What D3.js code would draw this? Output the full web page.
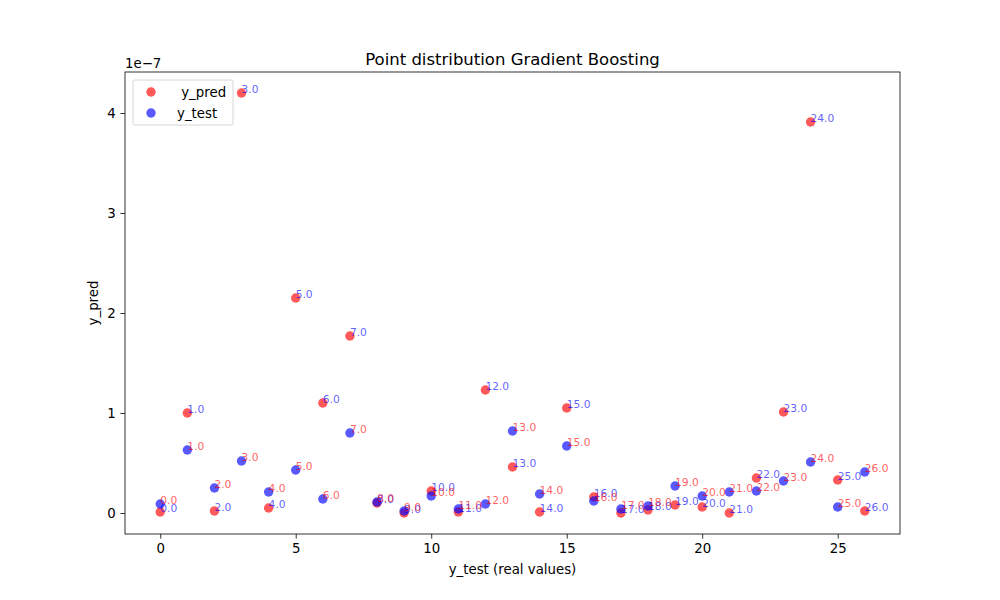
<!DOCTYPE html>
<html>
<head>
<meta charset="utf-8">
<script src="https://cdn.jsdelivr.net/npm/d3@7"></script>
<style>
body{margin:0;background:#fff;}
text{font-family:"DejaVu Sans",sans-serif;}
</style>
</head>
<body>
<script>
// values in units of 1e-7
var idx = d3.range(27);
var yPred = [0.01,1.00,0.02,4.20,0.05,2.15,1.10,1.77,0.10,0.00,0.22,0.01,1.23,0.46,0.01,1.05,0.16,0.00,0.03,0.08,0.06,0.00,0.35,1.01,3.91,0.33,0.02];
var yTest = [0.09,0.63,0.25,0.52,0.21,0.43,0.14,0.80,0.11,0.02,0.17,0.04,0.09,0.82,0.19,0.67,0.12,0.04,0.07,0.27,0.17,0.21,0.22,0.32,0.51,0.06,0.41];
var xTicks = [0,5,10,15,20,25];
var yTicks = [0,1,2,3,4];

var W=1000,H=600, L=125,R=900,T=72,B=534;
var svg=d3.select('body').append('svg').attr('width',W).attr('height',H);

var x=d3.scaleLinear().domain([-1.3,27.3]).range([L,R]);
var y=d3.scaleLinear().domain([-0.21,4.41]).range([B,T]);

var ax=svg.append('g');
ax.append('g').attr('transform','translate(0,'+B+')')
  .call(d3.axisBottom(x).tickValues(xTicks).tickSize(4.67).tickPadding(4.67).tickFormat(d3.format('d')));
ax.append('g').attr('transform','translate('+L+',0)')
  .call(d3.axisLeft(y).tickValues(yTicks).tickSize(4.67).tickPadding(4.67).tickFormat(d3.format('d')));
ax.selectAll('.domain').remove();
ax.selectAll('.tick line').attr('stroke','#000').attr('stroke-width',0.8);
ax.selectAll('.tick text').attr('font-size','13.33px').attr('font-family','DejaVu Sans').attr('fill','#000');

// points
var rr=4.7;
svg.append('g').selectAll('circle').data(idx).enter().append('circle')
  .attr('cx',function(d){return x(d);}).attr('cy',function(d){return y(yPred[d]);})
  .attr('r',rr).attr('fill','red').attr('fill-opacity',0.65);
svg.append('g').selectAll('circle').data(idx).enter().append('circle')
  .attr('cx',function(d){return x(d);}).attr('cy',function(d){return y(yTest[d]);})
  .attr('r',rr).attr('fill','blue').attr('fill-opacity',0.65);

// annotations
svg.append('g').selectAll('text').data(idx).enter().append('text')
  .attr('x',function(d){return x(d);}).attr('y',function(d){return y(yPred[d]);})
  .attr('font-size','10.67px').attr('fill','blue').attr('fill-opacity',0.65)
  .text(function(d){return d.toFixed(1);});
svg.append('g').selectAll('text').data(idx).enter().append('text')
  .attr('x',function(d){return x(d);}).attr('y',function(d){return y(yTest[d]);})
  .attr('font-size','10.67px').attr('fill','red').attr('fill-opacity',0.65)
  .text(function(d){return d.toFixed(1);});

// frame
svg.append('rect').attr('x',L).attr('y',T).attr('width',R-L).attr('height',B-T)
  .attr('fill','none').attr('stroke','#000').attr('stroke-width',0.8);

// texts
svg.append('text').attr('x',(L+R)/2).attr('y',65).attr('text-anchor','middle')
  .attr('font-size','16.5px').text('Point distribution Gradient Boosting');
svg.append('text').attr('x',(L+R)/2).attr('y',574).attr('text-anchor','middle')
  .attr('font-size','13.33px').text('y_test (real values)');
svg.append('text').attr('transform','translate(98,'+((T+B)/2)+') rotate(-90)').attr('text-anchor','middle')
  .attr('font-size','13.33px').text('y_pred');
svg.append('text').attr('x',L).attr('y',68).attr('font-size','13.33px').text('1e\u22127');

// legend
var lg=svg.append('g');
lg.append('rect').attr('x',133).attr('y',80).attr('width',100).attr('height',45).attr('rx',2)
  .attr('fill','#fff').attr('fill-opacity',0.8).attr('stroke','#ccc').attr('stroke-width',0.8);
var legendItems=[{label:' y_pred',color:'red'},{label:'y_test',color:'blue'}];
legendItems.forEach(function(it,i){
  lg.append('circle').attr('cx',151).attr('cy',92+i*21).attr('r',rr)
    .attr('fill',it.color).attr('fill-opacity',0.65);
  lg.append('text').attr('x',177).attr('y',97+i*21).attr('font-size','13.33px')
    .attr('xml:space','preserve').style('white-space','pre').text(it.label);
});
</script>
</body>
</html>
